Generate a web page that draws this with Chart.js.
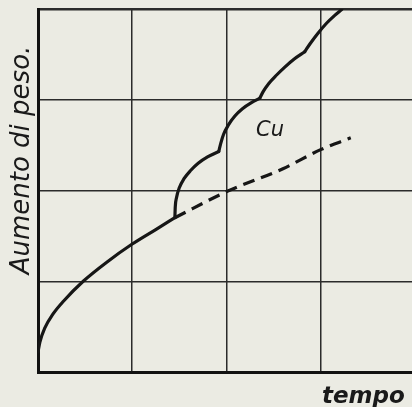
<!DOCTYPE html>
<html>
<head>
<meta charset="utf-8">
<script src="https://cdn.jsdelivr.net/npm/chart.js@4/dist/chart.umd.min.js"></script>
<style>
  html, body { margin: 0; padding: 0; background: #ebebe3; overflow: hidden; }
  canvas { display: block; background: #ebebe3; }
</style>
</head>
<body>
<canvas id="chart" width="412" height="407"></canvas>
<script>
// Weight gain vs time (grid units, 4 x 4 cells)
const yTitle = 'Aumento di peso.';
const xTitle = 'tempo';
const curveLabel = 'Cu';

// common parabolic part, up to the breakaway point
const baseCurve = [
  [0, 0.22], [0.02, 0.33], [0.07, 0.48], [0.16, 0.64], [0.27, 0.78],
  [0.48, 1.00], [0.73, 1.21], [1.0, 1.41], [1.25, 1.57], [1.453, 1.70]
];

// continuation without breakaway (dashed)
const dashedCurve = [
  [1.453, 1.70], [2.015, 1.994], [2.6, 2.24], [3.0, 2.45], [3.32, 2.58]
];

// Cu: scalloped curve, one array per scallop
const cuScallops = [
  [[1.453, 1.70], [1.457, 1.82], [1.47, 1.92], [1.50, 2.03], [1.55, 2.13],
   [1.62, 2.22], [1.70, 2.30], [1.80, 2.37], [1.919, 2.43]],
  [[1.919, 2.43], [1.94, 2.52], [1.97, 2.62], [2.02, 2.72], [2.09, 2.82],
   [2.17, 2.90], [2.27, 2.97], [2.354, 3.016]],
  [[2.354, 3.016], [2.39, 3.09], [2.45, 3.18], [2.53, 3.27], [2.62, 3.36],
   [2.72, 3.45], [2.831, 3.529]],
  [[2.831, 3.529], [2.89, 3.62], [2.97, 3.73], [3.06, 3.84], [3.15, 3.93],
   [3.224, 3.994]]
];

const ink = '#161616';
const toXY = pts => pts.map(p => ({ x: p[0], y: p[1] }));

const lineStyle = {
  borderColor: ink, borderWidth: 3.2, pointRadius: 0,
  cubicInterpolationMode: 'monotone', borderCapStyle: 'round', borderJoinStyle: 'round'
};

const datasets = [
  Object.assign({ data: toXY(baseCurve) }, lineStyle),
  Object.assign({ data: toXY(dashedCurve) }, lineStyle, { borderDash: [12, 7], borderCapStyle: 'butt' })
];
cuScallops.forEach(s => {
  datasets.push(Object.assign({ data: toXY(s) }, lineStyle));
});

const labelsPlugin = {
  id: 'labels',
  afterDraw(chart) {
    const ctx = chart.ctx;
    ctx.save();
    ctx.fillStyle = '#1a1a1a';
    // y axis title
    ctx.translate(22, 160);
    ctx.rotate(-Math.PI / 2);
    ctx.font = 'italic 26px "DejaVu Sans"';
    ctx.textAlign = 'center';
    ctx.textBaseline = 'middle';
    ctx.fillText(yTitle, 0, 0);
    ctx.restore();

    ctx.save();
    ctx.fillStyle = '#1a1a1a';
    ctx.font = 'italic 21px "DejaVu Sans"';
    ctx.textAlign = 'center';
    ctx.textBaseline = 'middle';
    ctx.fillText(curveLabel, 270, 131);

    ctx.font = 'italic bold 23px "DejaVu Sans"';
    ctx.textAlign = 'left';
    ctx.textBaseline = 'alphabetic';
    ctx.fillText(xTitle, 322, 403);
    ctx.restore();
  }
};

new Chart(document.getElementById('chart'), {
  type: 'line',
  data: { datasets: datasets },
  options: {
    responsive: false,
    animation: false,
    devicePixelRatio: 1,
    layout: { padding: { left: 38, top: 9, right: 0, bottom: 35 } },
    plugins: { legend: { display: false }, tooltip: { enabled: false } },
    scales: {
      x: {
        type: 'linear', min: 0, max: 3.97,
        afterBuildTicks: scale => { scale.ticks = [0, 1, 2, 3].map(v => ({ value: v })); },
        ticks: { display: false },
        grid: { color: '#2b2b2b', lineWidth: 1.5, drawTicks: false },
        border: { color: '#111', width: 3 }
      },
      y: {
        type: 'linear', min: 0, max: 4,
        afterBuildTicks: scale => { scale.ticks = [0, 1, 2, 3, 4].map(v => ({ value: v })); },
        ticks: { display: false },
        grid: {
          color: '#2b2b2b', drawTicks: false,
          lineWidth: c => (c.tick && c.tick.value === 4 ? 2.5 : 1.5)
        },
        border: { color: '#111', width: 3 }
      }
    }
  },
  plugins: [labelsPlugin]
});
</script>
</body>
</html>
